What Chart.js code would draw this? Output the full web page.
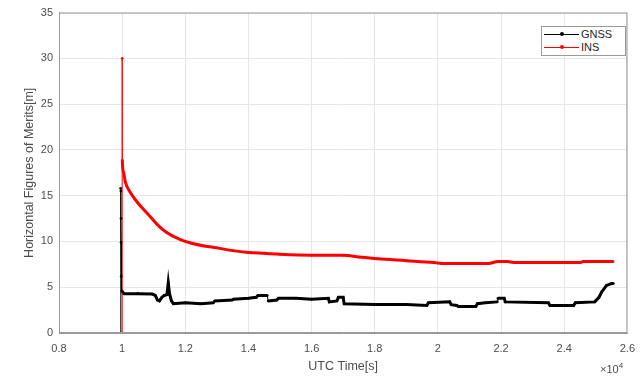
<!DOCTYPE html>
<html>
<head>
<meta charset="utf-8">
<script src="https://cdn.jsdelivr.net/npm/chart.js@4.4.1/dist/chart.umd.min.js"></script>
<style>
  body { margin: 0; background: #fff; font-family: 'Liberation Sans', Arial, sans-serif; }
  .wrap { position: relative; width: 644px; height: 377px; }
  .legend {
    position: absolute; left: 541px; top: 26px; width: 83px; height: 28px;
    border: 1px solid #9a9a9a; background: #fff; font-size: 11px; color: #262626;
  }
  .legend .row { position: absolute; left: 2px; height: 12px; line-height: 12px; }
  .legend .swatch { position: absolute; left: 0; top: 6px; width: 35px; height: 1px; }
  .legend .dot { position: absolute; left: 16px; top: 4px; width: 4px; height: 4px; border-radius: 2px; }
  .legend .txt { position: absolute; left: 37px; top: 0; }
  .exp { position: absolute; left: 600px; top: 361px; font-size: 11px; color: #4d4d4d; }
  .exp sup { font-size: 8px; }
</style>
</head>
<body>
<div class="wrap">
  <canvas id="myChart" width="644" height="377"></canvas>
  <div class="legend">
    <div class="row" style="top:1px"><div class="swatch" style="background:#000"></div><div class="dot" style="background:#000"></div><span class="txt">GNSS</span></div>
    <div class="row" style="top:14px"><div class="swatch" style="background:#f00"></div><div class="dot" style="background:#f00"></div><span class="txt">INS</span></div>
  </div>
  <div class="exp">&times;10<sup>4</sup></div>
</div>
<script>
// GNSS horizontal figure of merit (s, m)
const gnssTime = [9950, 9950, 9958, 9962, 9966, 9970, 9990, 10060, 10500, 10950, 11050, 11120, 11180, 11260, 11330, 11420, 11460, 11500, 11560, 11625,
  12000, 12500, 12900, 12920, 13500, 13520, 14000, 14250, 14300, 14600, 14620, 14900, 14950, 15500, 16000, 16530, 16560, 16800, 16850, 17000, 17030,
  18000, 19000, 19650, 19700, 20375, 20420, 20600, 20650, 21200, 21250, 21500, 21880, 21900, 22100, 22130, 23500, 23550, 24300, 24350, 24970,
  25100, 25190, 25340, 25500, 25560];
const gnssValue = [0, 15.8, 15.5, 12.5, 9.9, 6.2, 4.6, 4.3, 4.3, 4.25, 4.1, 3.6, 3.5, 3.9, 4.1, 4.2, 5.5, 4.3, 3.5, 3.2,
  3.3, 3.2, 3.3, 3.5, 3.6, 3.7, 3.8, 3.9, 4.1, 4.1, 3.5, 3.6, 3.8, 3.8, 3.7, 3.8, 3.4, 3.5, 3.9, 3.9, 3.2,
  3.1, 3.1, 3.0, 3.3, 3.4, 3.1, 3.0, 2.9, 2.9, 3.2, 3.3, 3.4, 3.8, 3.8, 3.4, 3.3, 3.0, 3.0, 3.3, 3.4,
  3.9, 4.5, 5.2, 5.4, 5.4];

// INS horizontal figure of merit (s, m)
const insTime = [10000, 10000, 10005, 10040, 10100, 10250, 10500, 10812, 11100, 11400, 11844, 12200, 12600, 13000, 13500, 14000, 14500,
  15000, 16000, 17000, 17500, 18094, 19000, 19875, 20200, 21600, 21900, 22200, 22400, 24500, 24600, 25550];
const insValue = [0, 30, 18.9, 17.6, 16.5, 15.4, 14.2, 13.0, 11.9, 11.0, 10.2, 9.8, 9.5, 9.3, 9.0, 8.8, 8.7,
  8.6, 8.5, 8.5, 8.3, 8.1, 7.9, 7.7, 7.6, 7.6, 7.8, 7.8, 7.7, 7.7, 7.8, 7.8];

const xTicks = [8000, 10000, 12000, 14000, 16000, 18000, 20000, 22000, 24000, 26000];
const yTicks = [0, 5, 10, 15, 20, 25, 30, 35];

const toPoints = (xs, ys) => xs.map((x, i) => ({ x, y: ys[i] }));

// thin where the trace jumps vertically, thick where the dense samples pile up
const segWidth = (ctx) => (Math.abs(ctx.p1.parsed.x - ctx.p0.parsed.x) < 25 ? 1 : 3);

// MATLAB style box around the axes
const boxPlugin = {
  id: 'box',
  afterDraw(chart) {
    const { ctx, chartArea: a } = chart;
    ctx.save();
    ctx.strokeStyle = '#9a9a9a';
    ctx.lineWidth = 1;
    ctx.strokeRect(a.left + 0.5, a.top + 0.5, a.right - a.left - 1, a.bottom - a.top - 1);
    ctx.restore();
  },
};

const tickFont = { family: "'Liberation Sans', Arial, sans-serif", size: 11 };
const titleFont = { family: "'Liberation Sans', Arial, sans-serif", size: 12.5 };

new Chart(document.getElementById('myChart'), {
  type: 'line',
  data: {
    datasets: [
      {
        label: 'GNSS',
        data: toPoints(gnssTime, gnssValue),
        borderColor: '#000',
        backgroundColor: '#000',
        borderWidth: 3,
        pointRadius: 1.3,
        pointBorderWidth: 0,
        tension: 0,
        segment: { borderWidth: segWidth },
      },
      {
        label: 'INS',
        data: toPoints(insTime, insValue),
        borderColor: '#f00',
        backgroundColor: '#f00',
        borderWidth: 3,
        pointRadius: 1.3,
        pointBorderWidth: 0,
        cubicInterpolationMode: 'monotone',
        segment: { borderWidth: segWidth },
      },
    ],
  },
  options: {
    responsive: false,
    animation: false,
    layout: { padding: { left: 22, right: 11, top: 11, bottom: 0 } },
    plugins: { legend: { display: false }, tooltip: { enabled: false } },
    scales: {
      x: {
        type: 'linear',
        min: 8000,
        max: 26000,
        afterBuildTicks: (s) => { s.ticks = xTicks.map((v) => ({ value: v })); },
        afterFit: (s) => { s.height = 44; },
        grid: { color: '#e6e6e6', drawTicks: false },
        border: { color: '#9a9a9a' },
        ticks: { font: tickFont, color: '#4d4d4d', padding: 9, maxRotation: 0, callback: (v) => String(Math.round(v / 1000) / 10) },
        title: { display: true, text: 'UTC Time[s]', font: titleFont, color: '#4d4d4d', padding: { top: 0, bottom: 3 } },
      },
      y: {
        min: 0,
        max: 35,
        afterBuildTicks: (s) => { s.ticks = yTicks.map((v) => ({ value: v })); },
        afterFit: (s) => { s.width = 37; },
        grid: { color: '#e6e6e6', drawTicks: false },
        border: { color: '#9a9a9a' },
        ticks: { font: tickFont, color: '#4d4d4d', padding: 6 },
        title: { display: true, text: 'Horizontal Figures of Merits[m]', font: titleFont, color: '#4d4d4d', padding: { top: 0, bottom: 0 } },
      },
    },
  },
  plugins: [boxPlugin],
});
</script>
</body>
</html>
